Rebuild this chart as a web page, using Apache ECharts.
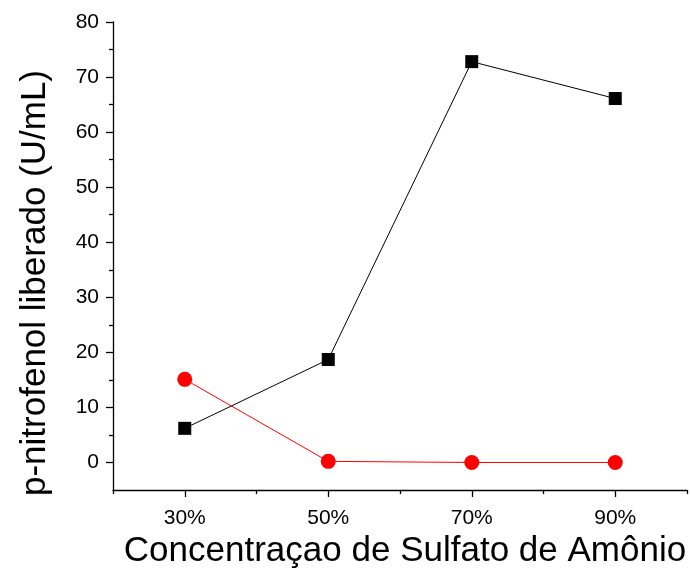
<!DOCTYPE html>
<html>
<head>
<meta charset="utf-8">
<script src="https://cdn.jsdelivr.net/npm/echarts@6/dist/echarts.min.js"></script>
<style>
html, body {margin: 0; padding: 0; background: #fff;}
#chart {width: 691px; height: 569px;}
</style>
</head>
<body>
<div id="chart"></div>
<script>
var chart = echarts.init(document.getElementById('chart'));
// concentração de sulfato de amônio (%)
var conc = [30, 50, 70, 90];
var blackVals = [6.2, 18.7, 72.8, 66.1];   // quadrados pretos
var redVals = [15.1, 0.2, 0, 0];           // círculos vermelhos
var xMajor = [30, 50, 70, 90];
var xMinor = [20, 40, 60, 80, 100];
var yMajor = [0, 10, 20, 30, 40, 50, 60, 70, 80];
var yMinor = [5, 15, 25, 35, 45, 55, 65, 75];

function pairs(xs, ys) {
    var out = [];
    for (var i = 0; i < xs.length; i++) {
        out.push([xs[i], ys[i]]);
    }
    return out;
}

var font = "'Liberation Sans', Arial, sans-serif";

var option = {
    animation: false,
    grid: {left: 113, right: 4, top: 22, bottom: 79, containLabel: false, outerBoundsMode: 'none'},
    xAxis: [
        {
            type: 'value', min: 20, max: 100,
            name: 'Concentraçao de Sulfato de Amônio',
            nameLocation: 'middle',
            nameGap: 44,
            nameTextStyle: {fontFamily: font, fontSize: 35, color: '#000', padding: [0, 0, 0, 10]},
            axisLine: {show: true, onZero: false, lineStyle: {color: '#000', width: 1.3}},
            axisTick: {show: true, length: 7, customValues: xMajor, lineStyle: {color: '#000', width: 1.3}},
            axisLabel: {customValues: xMajor, formatter: '{value}%', margin: 18,
                fontFamily: font, fontSize: 21, color: '#000'},
            splitLine: {show: false}
        },
        {
            type: 'value', min: 20, max: 100, position: 'bottom',
            axisLine: {show: false, onZero: false},
            axisTick: {show: true, length: 4, customValues: xMinor, lineStyle: {color: '#000', width: 1.3}},
            axisLabel: {show: false},
            splitLine: {show: false}
        }
    ],
    yAxis: [
        {
            type: 'value', min: -5, max: 80,
            axisLine: {show: true, onZero: false, lineStyle: {color: '#000', width: 1.3}},
            axisTick: {show: true, length: 7, customValues: yMajor, lineStyle: {color: '#000', width: 1.3}},
            axisLabel: {customValues: yMajor, margin: 14, fontFamily: font, fontSize: 21, color: '#000'},
            splitLine: {show: false}
        },
        {
            type: 'value', min: -5, max: 80, position: 'left',
            axisLine: {show: false, onZero: false},
            axisTick: {show: true, length: 4, customValues: yMinor, lineStyle: {color: '#000', width: 1.3}},
            axisLabel: {show: false},
            splitLine: {show: false}
        }
    ],
    graphic: [{
        type: 'text',
        x: 35, y: 283,
        rotation: Math.PI / 2,
        style: {
            text: 'p-nitrofenol liberado (U/mL)',
            fontFamily: font, fontSize: 35, fill: '#000',
            textAlign: 'center', textVerticalAlign: 'middle'
        }
    }],
    series: [
        {
            type: 'line',
            data: pairs(conc, blackVals),
            symbol: 'rect', symbolSize: 13,
            lineStyle: {color: '#000', width: 1},
            itemStyle: {color: '#000'}
        },
        {
            type: 'line',
            data: pairs(conc, redVals),
            symbol: 'circle', symbolSize: 15,
            lineStyle: {color: '#ff0000', width: 1},
            itemStyle: {color: '#ff0000'}
        }
    ]
};
chart.setOption(option);
</script>
</body>
</html>
